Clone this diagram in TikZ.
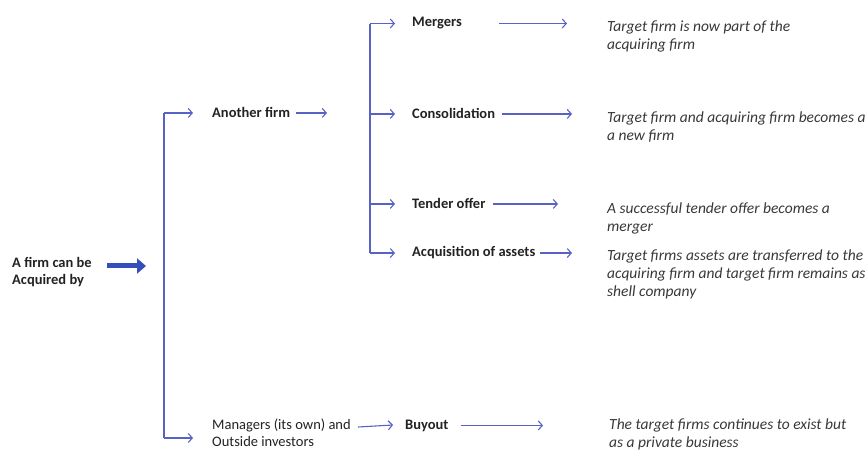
\documentclass[tikz,border=0pt]{standalone}
\usepackage{fontspec}
\setmainfont{Carlito}
\usetikzlibrary{arrows.meta}
\definecolor{branch}{RGB}{88,98,196}
\definecolor{bigblue}{RGB}{52,78,186}
\definecolor{ink}{RGB}{34,34,34}
\newcommand\stacked[1]{\begin{tabular}[t]{@{}l@{}}#1\end{tabular}}
\begin{document}
\begin{tikzpicture}[x=1pt,y=-1pt,
  lbl/.style={anchor=base west,inner sep=0pt,text=ink,
    font=\fontsize{14.5}{17}\selectfont\bfseries},
  desc/.style={anchor=base west,inner sep=0pt,text=ink!90,
    font=\fontsize{15.5}{18}\selectfont\itshape},
  trunk/.style={draw=branch,line width=1.1pt},
  link/.style={trunk,-{Straight Barb[length=4pt,width=9pt]}}]
  \useasboundingbox (0,0) rectangle (868,457);
  % Root
  \node[lbl] (firm) at (12,268) {\stacked{A firm can be\\Acquired by}};
  \coordinate (bigtail) at (107,266);
  \coordinate (bighead) at (146,266);
  \draw[bigblue,line width=5pt,-{Triangle[length=9pt,width=15pt]}] (bigtail) -- (bighead);
  % Who acquires
  \node[lbl] (another) at (212,118) {Another firm};
  \node[lbl,font=\fontsize{14.5}{17}\selectfont] (managers) at (212,429) {\stacked{Managers (its own) and\\Outside investors}};
  \coordinate (t1) at (164,0);
  \coordinate (mgrin) at (193,438);
  \draw[trunk] (t1 |- another.west) -- (t1 |- mgrin);
  \draw[link] (t1 |- another.west) -- ([xshift=-19pt]another.west);
  \draw[link] (t1 |- mgrin) -- (mgrin);
  % Forms
  \node[lbl] (mergers) at (412,27) {Mergers};
  \node[lbl] (consol) at (412,119) {Consolidation};
  \node[lbl] (tender) at (412,209) {Tender offer};
  \node[lbl] (assets) at (412,257) {Acquisition of assets};
  \node[lbl] (buyout) at (405,429) {Buyout};
  \coordinate (t2) at (370,0);
  \draw[trunk] (t2 |- mergers.west) -- (t2 |- assets.west);
  \foreach \n in {mergers,consol,tender,assets}
    \draw[link] (t2 |- \n.west) -- ([xshift=-17pt]\n.west);
  \coordinate (anotherend) at (327,0);
  \draw[link] ([xshift=6pt]another.east) -- (anotherend |- another.east);
  \coordinate (mgrout) at (358,427);
  \coordinate (mgrend) at (393,425);
  \draw[link] (mgrout) -- (mgrend);
  % Outcomes
  \node[desc] (dmergers) at (607,32) {\stacked{Target firm is now part of the\\acquiring firm}};
  \node[desc] (dconsol) at (607,123) {\stacked{Target firm and acquiring firm becomes a\\a new firm}};
  \node[desc] (dtender) at (607,214) {\stacked{A successful tender offer becomes a\\merger}};
  \node[desc] (dassets) at (607,261) {\stacked{Target firms assets are transferred to the\\acquiring firm and target firm remains as\\shell company}};
  \node[desc] (dbuyout) at (609,429) {\stacked{The target firms continues to exist but\\as a private business}};
  \coordinate (e1) at (567,0);
  \coordinate (e2) at (572,0);
  \coordinate (e3) at (558,0);
  \coordinate (e4) at (572,0);
  \coordinate (e5) at (543,0);
  \draw[link] ([xshift=37pt]mergers.east) -- (e1 |- mergers.east);
  \draw[link] ([xshift=7pt]consol.east) -- (e2 |- consol.east);
  \draw[link] ([xshift=7pt]tender.east) -- (e3 |- tender.east);
  \draw[link] ([xshift=5pt]assets.east) -- (e4 |- assets.east);
  \draw[link] ([xshift=12pt]buyout.east) -- (e5 |- buyout.east);
\end{tikzpicture}
\end{document}
